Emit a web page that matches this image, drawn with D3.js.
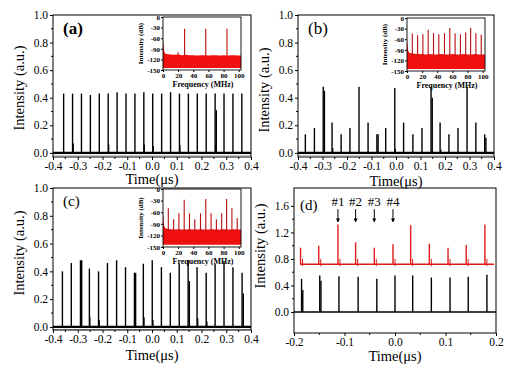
<!DOCTYPE html>
<html><head><meta charset="utf-8">
<script src="https://cdn.jsdelivr.net/npm/d3@7/dist/d3.min.js"></script>
<style>
body{margin:0;background:#fff}
svg{display:block;font-family:"Liberation Serif","Times New Roman",serif}
</style></head><body>
<svg id="fig" width="530" height="376"></svg>
<script>
// ---- time traces (us, a.u.) ----
var timesA = [-0.357,-0.321,-0.285,-0.249,-0.213,-0.177,-0.141,-0.105,-0.069,-0.033,0.003,0.039,0.075,0.111,0.147,0.183,0.219,0.255,0.291,0.327,0.363];
var peaksA = [0.43,0.43,0.43,0.42,0.43,0.43,0.44,0.43,0.43,0.44,0.43,0.43,0.44,0.43,0.43,0.43,0.43,0.43,0.43,0.43,0.43];
var tailsA = [0,0,0,0,0,0,0,0,0,0,0,0,0,0,0,0,0,0.31,0,0,0];
var smallTA = [-0.318,-0.175,-0.031,0.005,0.113,0.257];
var smallVA = [0.07,0.06,0.06,0.05,0.055,0.06];

var timesB = [-0.370,-0.333,-0.297,-0.261,-0.224,-0.188,-0.151,-0.114,-0.078,-0.042,-0.005,0.031,0.069,0.106,0.143,0.180,0.216,0.253,0.290,0.326,0.362];
var peaksB = [0.135,0.18,0.48,0.22,0.135,0.18,0.48,0.22,0.135,0.18,0.47,0.22,0.135,0.18,0.48,0.22,0.135,0.18,0.48,0.22,0.135];
var tailsB = [0,0,0.45,0,0,0,0,0,0.135,0,0,0,0,0,0.40,0,0,0,0,0,0.11];
var smallTB = [-0.258,-0.003,0.183];
var smallVB = [0.035,0.03,0.025];

var timesC = [-0.362,-0.326,-0.289,-0.253,-0.216,-0.180,-0.143,-0.107,-0.071,-0.035,0.001,0.038,0.074,0.110,0.146,0.182,0.219,0.255,0.291,0.327,0.364];
var peaksC = [0.40,0.46,0.48,0.42,0.40,0.46,0.48,0.43,0.39,0.455,0.48,0.43,0.39,0.455,0.48,0.43,0.39,0.455,0.47,0.43,0.39];
var tailsC = [0,0,0.48,0,0,0,0,0,0.39,0,0,0,0,0,0.33,0,0,0,0,0,0.24];
var smallTC = [-0.251,-0.213,-0.032,0.004,0.185,0.222];
var smallVC = [0.07,0.05,0.07,0.05,0.06,0.04];

var timesDk = [-0.185,-0.149,-0.111,-0.073,-0.036,0.000,0.035,0.072,0.109,0.145,0.182];
var peaksDk = [0.50,0.55,0.54,0.53,0.50,0.55,0.55,0.52,0.52,0.53,0.56];
var tailsDk = [0.33,0.47,0,0,0,0,0,0,0,0,0];
var timesDr = [-0.187,-0.151,-0.113,-0.078,-0.041,-0.004,0.031,0.068,0.105,0.141,0.178];
var peaksDr = [0.97,1.00,1.32,1.05,0.97,1.02,1.31,1.03,0.97,1.01,1.32];
var redBase = 0.72;
var arrowT = [-0.113,-0.078,-0.041,-0.004];
var arrowLabels = ["#1","#2","#3","#4"];

// ---- inset spectra (MHz, dB) ----
var floorF = [0,0.7,1.5,3,5,10,15,20,25,30,35,40,45,50,55,60,65,70,75,80,85,90,95,100,103];
var floorA = [-64,-76,-96,-104,-105,-106,-107,-106,-108,-107,-108,-108,-109,-108,-108,-109,-108,-108,-109,-108,-109,-108,-108,-109,-109];
var floorB = [-62,-74,-92,-98,-100,-101,-102,-102,-103,-102,-103,-103,-102,-103,-103,-102,-103,-103,-102,-103,-103,-102,-103,-103,-103];
var floorC = [-62,-76,-95,-101,-103,-104,-105,-104,-105,-105,-104,-105,-105,-104,-105,-105,-104,-105,-105,-104,-105,-105,-104,-105,-105];
var specFA = [20,28.5,56.5,84.5];
var specVA = [-100,-33,-33,-33];
var specFB = [7,14,21,28,35,42,49.5,56.5,63.5,70.5,77.5,84,91,98];
var specVB = [-44,-49,-46,-33,-43,-46,-43,-28,-43,-46,-41,-28,-43,-47];
var specVC = [-50,-78,-63,-28,-63,-78,-63,-26,-63,-78,-63,-26,-50,-75];

var mainXTicks = [-0.4,-0.3,-0.2,-0.1,0,0.1,0.2,0.3,0.4];
var mainYTicks = [0,0.2,0.4,0.6,0.8,1.0];
var dXTicks = [-0.2,-0.1,0,0.1,0.2];
var dYTicks = [0,0.4,0.8,1.2,1.6];
var insetXTicks = [0,20,40,60,80,100];
var insetYTicks = [0,-30,-60,-90,-120,-150];

var svg = d3.select("#fig");
var fmt1 = function(d){ return d.toFixed(1); };

function panel(box, xd, yd, xt, yt, xminor, yminor){
    var x = d3.scaleLinear().domain(xd).range([box.l, box.r]);
    var y = d3.scaleLinear().domain(yd).range([box.b, box.t]);
    var g = svg.append("g");
    // minor ticks
    g.selectAll(".mx").data(xminor).enter().append("line")
        .attr("x1", d => x(d)).attr("x2", d => x(d))
        .attr("y1", box.b).attr("y2", box.b + 2).attr("stroke", "#000");
    g.selectAll(".my").data(yminor).enter().append("line")
        .attr("y1", d => y(d)).attr("y2", d => y(d))
        .attr("x1", box.l).attr("x2", box.l - 2).attr("stroke", "#000");
    var ax = g.append("g").attr("transform", "translate(0," + box.b + ")")
        .call(d3.axisBottom(x).tickValues(xt).tickFormat(fmt1).tickSize(3).tickSizeOuter(0).tickPadding(1.5));
    var ay = g.append("g").attr("transform", "translate(" + box.l + ",0)")
        .call(d3.axisLeft(y).tickValues(yt).tickFormat(fmt1).tickSize(3).tickSizeOuter(0).tickPadding(2));
    [ax, ay].forEach(a => {
        a.attr("font-family", null).attr("font-size", 11.5);
        a.select(".domain").remove();
        a.selectAll("text").attr("fill", "#000");
    });
    return {x: x, y: y, g: g};
}

function frame(g, box){
    g.append("rect").attr("x", box.l).attr("y", box.t)
        .attr("width", box.r - box.l).attr("height", box.b - box.t)
        .attr("fill", "none").attr("stroke", "#000").attr("stroke-width", 1);
}

function pulses(p, times, peaks, tails, base, color, w){
    p.g.selectAll(null).data(times).enter().append("line")
        .attr("x1", d => p.x(d)).attr("x2", d => p.x(d))
        .attr("y1", p.y(base)).attr("y2", (d, i) => p.y(peaks[i]))
        .attr("stroke", color).attr("stroke-width", w);
    p.g.selectAll(null).data(times.filter((d, i) => tails[i] > 0)).enter().append("line")
        .attr("x1", d => p.x(d) + 1.2).attr("x2", d => p.x(d) + 1.2)
        .attr("y1", p.y(base))
        .attr("y2", d => p.y(tails[times.indexOf(d)]))
        .attr("stroke", color).attr("stroke-width", w);
}

function timePanel(box, times, peaks, tails, sT, sV, label, bold, lsize){
    var p = panel(box, [-0.4, 0.4], [box.ymin, 1.0], mainXTicks, mainYTicks,
        [-0.35,-0.25,-0.15,-0.05,0.05,0.15,0.25,0.35], [0.1,0.3,0.5,0.7,0.9]);
    // baseline
    p.g.append("line").attr("x1", box.l).attr("x2", box.r)
        .attr("y1", p.y(0)).attr("y2", p.y(0))
        .attr("stroke", "#000").attr("stroke-width", 2.2);
    p.g.append("line").attr("x1", box.l).attr("x2", box.r)
        .attr("y1", p.y(0) + 2.5).attr("y2", p.y(0) + 2.5)
        .attr("stroke", "#aaa").attr("stroke-width", 0.8);
    pulses(p, times, peaks, tails, 0, "#000", 1.4);
    p.g.selectAll(null).data(sT).enter().append("line")
        .attr("x1", d => p.x(d)).attr("x2", d => p.x(d))
        .attr("y1", p.y(0)).attr("y2", (d, i) => p.y(sV[i]))
        .attr("stroke", "#000").attr("stroke-width", 1.2);
    frame(p.g, box);
    p.g.append("text").attr("x", box.l + 10).attr("y", box.t + box.lab)
        .attr("font-size", lsize).attr("font-weight", bold ? "bold" : "normal").text(label);
    addTitles(box);
    return p;
}

function addTitles(box){
    svg.append("text").attr("transform", "translate(" + (box.l - 29) + "," + box.ty + ") rotate(-90)")
        .attr("text-anchor", "middle").attr("font-size", 14.5).text("Intensity (a.u.)");
    svg.append("text").attr("x", (box.l + box.r) / 2).attr("y", box.b + box.tx)
        .attr("text-anchor", "middle").attr("font-size", 14.5).text("Time(\u03bcs)");
}

function inset(box, fl, sF, sV){
    var x = d3.scaleLinear().domain([0, 103]).range([box.l, box.r]);
    var y = d3.scaleLinear().domain([-150, 0]).range([box.b, box.t]);
    var g = svg.append("g");
    g.append("rect").attr("x", box.l).attr("y", box.t)
        .attr("width", box.r - box.l).attr("height", box.b - box.t).attr("fill", "#fff");
    var area = d3.area().x((d, i) => x(floorF[i])).y0(y(-144)).y1(d => y(d));
    g.append("path").datum(fl).attr("d", area).attr("fill", "#f01010");
    g.selectAll(null).data(sF).enter().append("line")
        .attr("x1", d => x(d)).attr("x2", d => x(d))
        .attr("y1", y(-110)).attr("y2", (d, i) => y(sV[i]))
        .attr("stroke", "#b80d0d").attr("stroke-width", 1.1);
    var ax = g.append("g").attr("transform", "translate(0," + box.b + ")")
        .call(d3.axisBottom(x).tickValues(insetXTicks).tickSize(2).tickSizeOuter(0).tickPadding(1));
    var ay = g.append("g").attr("transform", "translate(" + box.l + ",0)")
        .call(d3.axisLeft(y).tickValues(insetYTicks).tickFormat(d => d === 0 ? "0" : "-" + Math.abs(d)).tickSize(2).tickSizeOuter(0).tickPadding(1));
    [ax, ay].forEach(a => {
        a.attr("font-family", null).attr("font-size", 7).attr("font-weight", "bold");
        a.select(".domain").remove();
        a.selectAll("text").attr("fill", "#000");
    });
    g.append("rect").attr("x", box.l).attr("y", box.t)
        .attr("width", box.r - box.l).attr("height", box.b - box.t)
        .attr("fill", "none").attr("stroke", "#000").attr("stroke-width", 0.9);
    g.append("text").attr("transform", "translate(" + (box.l - 20) + "," + ((box.t + box.b) / 2) + ") rotate(-90)")
        .attr("text-anchor", "middle").attr("font-size", 7).attr("font-weight", "bold").text("Intensity (dB)");
    g.append("text").attr("x", (box.l + box.r) / 2 + 1).attr("y", box.b + 16.5)
        .attr("text-anchor", "middle").attr("font-size", 8).attr("font-weight", "bold").text("Frequency (MHz)");
}

// panel (a)
var boxA = {l: 53, r: 251, t: 15, b: 157, ymin: -0.03, lab: 19, ty: 88, tx: 27};
timePanel(boxA, timesA, peaksA, tailsA, smallTA, smallVA, "(a)", true, 17);
inset({l: 163, r: 241, t: 17, b: 70}, floorA, specFA, specVA);

// panel (b)
var boxB = {l: 298, r: 494, t: 15, b: 157, ymin: -0.03, lab: 19, ty: 90, tx: 29};
timePanel(boxB, timesB, peaksB, tailsB, smallTB, smallVB, "(b)", false, 17);
inset({l: 407, r: 485, t: 18, b: 71}, floorB, specFB, specVB);

// panel (c)
var boxC = {l: 53, r: 251, t: 188, b: 330, ymin: -0.022, lab: 18, ty: 253, tx: 30};
timePanel(boxC, timesC, peaksC, tailsC, smallTC, smallVC, "(c)", false, 15);
inset({l: 163, r: 241, t: 189, b: 247}, floorC, specFB, specVC);

// panel (d)
var boxD = {l: 294, r: 496, t: 188, b: 333, ty: 246, tx: 27.5};
var pd = panel(boxD, [-0.2, 0.2], [-0.317, 1.87], dXTicks, dYTicks,
    [-0.15,-0.05,0.05,0.15], [0.2,0.6,1.0,1.4]);
pd.g.append("line").attr("x1", boxD.l).attr("x2", boxD.r)
    .attr("y1", pd.y(0)).attr("y2", pd.y(0)).attr("stroke", "#000").attr("stroke-width", 1.5);
pd.g.append("line").attr("x1", boxD.l + 6).attr("x2", boxD.r - 2)
    .attr("y1", pd.y(redBase)).attr("y2", pd.y(redBase)).attr("stroke", "#e01b1b").attr("stroke-width", 1.5);
pulses(pd, timesDk, peaksDk, tailsDk, 0, "#000", 1.4);
pulses(pd, timesDr, peaksDr, timesDr.map(() => 0), redBase, "#e01b1b", 1.4);
// red shoulders right after each pulse
pd.g.selectAll(null).data(timesDr).enter().append("line")
    .attr("x1", d => pd.x(d) + 2).attr("x2", d => pd.x(d) + 2)
    .attr("y1", pd.y(redBase - 0.03)).attr("y2", pd.y(redBase + 0.08))
    .attr("stroke", "#e01b1b").attr("stroke-width", 1);
// arrows
var defs = svg.append("defs");
defs.append("marker").attr("id", "ah").attr("viewBox", "0 0 6 6").attr("refX", 5).attr("refY", 3)
    .attr("markerWidth", 4).attr("markerHeight", 4).attr("orient", "auto")
    .append("path").attr("d", "M0,0L6,3L0,6Z").attr("fill", "#000");
pd.g.selectAll(null).data(arrowT).enter().append("line")
    .attr("x1", d => pd.x(d)).attr("x2", d => pd.x(d))
    .attr("y1", pd.y(1.55)).attr("y2", pd.y(1.36))
    .attr("stroke", "#000").attr("stroke-width", 1).attr("marker-end", "url(#ah)");
pd.g.selectAll(null).data(arrowT).enter().append("text")
    .attr("x", d => pd.x(d)).attr("y", pd.y(1.6))
    .attr("text-anchor", "middle").attr("font-size", 13).text((d, i) => arrowLabels[i]);
frame(pd.g, boxD);
pd.g.append("text").attr("x", boxD.l + 6).attr("y", boxD.t + 22).attr("font-size", 15).text("(d)");
addTitles(boxD);
</script>
</body></html>
